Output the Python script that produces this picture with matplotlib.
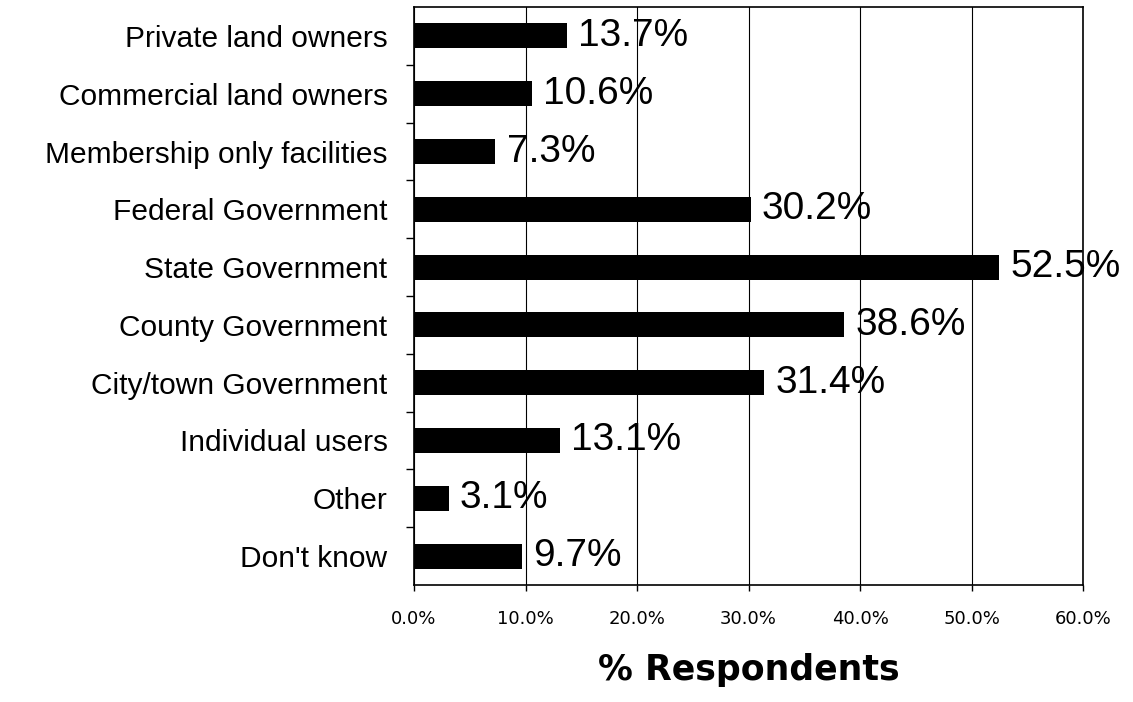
import matplotlib
matplotlib.use("Agg")
import matplotlib.pyplot as plt
from matplotlib.ticker import FixedLocator

categories = ["Private land owners", "Commercial land owners", "Membership only facilities",
              "Federal Government", "State Government", "County Government",
              "City/town Government", "Individual users", "Other", "Don't know"]
values = [13.7, 10.6, 7.3, 30.2, 52.5, 38.6, 31.4, 13.1, 3.1, 9.7]
xticks = [0, 10, 20, 30, 40, 50, 60]
xticklabels = ["0.0%", "10.0%", "20.0%", "30.0%", "40.0%", "50.0%", "60.0%"]
xlabel = "% Respondents"

fig = plt.figure(figsize=(11.33, 7.02), dpi=100)
ax = fig.add_axes([0.3654, 0.1667, 0.5905, 0.8233])

n = len(categories)
ypos = list(range(n))
ax.barh(ypos, values, height=0.43, color="black", zorder=3)
ax.set_ylim(n - 0.5, -0.5)
ax.set_xlim(0, 60)

for y, v in zip(ypos, values):
    ax.text(v + 1.0, y, f"{v:.1f}%", va="center", ha="left",
            fontsize=28, family="Liberation Sans", color="black", zorder=4)

ax.set_yticks(ypos)
ax.set_yticklabels(categories, fontsize=21.5, family="Liberation Sans")
ax.tick_params(axis="y", which="major", length=0, pad=19)
ax.yaxis.set_minor_locator(FixedLocator([i + 0.5 for i in range(n - 1)]))
ax.tick_params(axis="y", which="minor", length=6, width=1, color="black")

ax.set_xticks(xticks)
ax.set_xticklabels(xticklabels, fontsize=13, family="DejaVu Sans")
ax.tick_params(axis="x", which="major", length=4, width=1, pad=14)

ax.set_xlabel(xlabel, fontsize=25, fontweight="bold", family="DejaVu Sans", labelpad=18)

ax.grid(axis="x", color="black", linewidth=0.8, zorder=1)
for s in ax.spines.values():
    s.set_color("black")
    s.set_linewidth(1.2)

fig.savefig("out.png", dpi=100)
